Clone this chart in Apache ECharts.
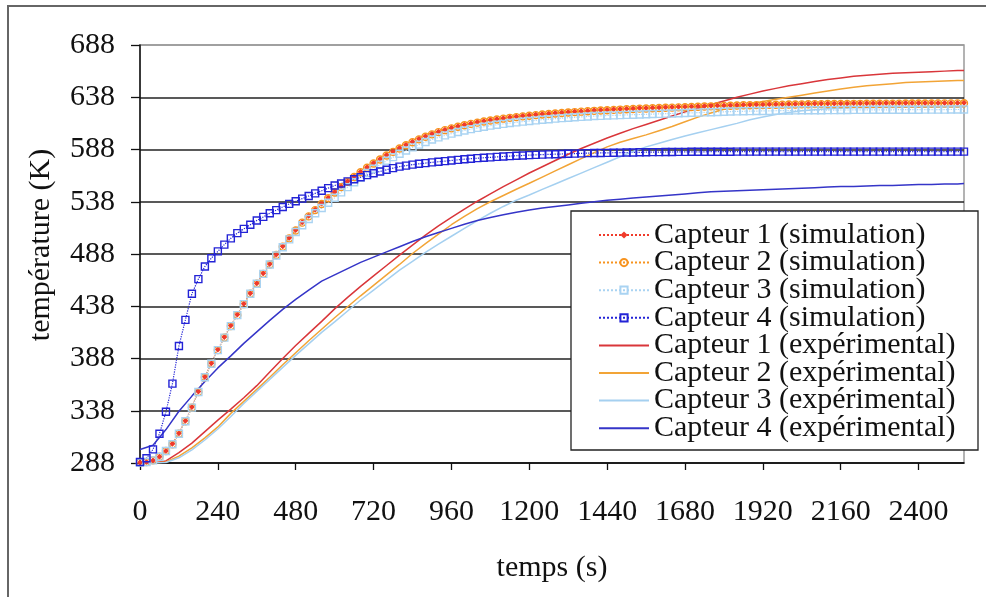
<!DOCTYPE html>
<html>
<head>
<meta charset="utf-8">
<title>température (K)</title>
<script src="https://cdn.jsdelivr.net/npm/echarts@6/dist/echarts.min.js"></script>
<style>
  html, body { margin: 0; padding: 0; background: #fff; }
  #chart { width: 986px; height: 597px; }
</style>
</head>
<body>
<div id="chart"></div>
<script>
// tick labels
var xTicks = [0, 240, 480, 720, 960, 1200, 1440, 1680, 1920, 2160, 2400];
var yTicks = [288, 338, 388, 438, 488, 538, 588, 638, 688];

var seriesNames = [
  'Capteur 1 (simulation)', 'Capteur 2 (simulation)', 'Capteur 3 (simulation)', 'Capteur 4 (simulation)',
  'Capteur 1 (expérimental)', 'Capteur 2 (expérimental)', 'Capteur 3 (expérimental)', 'Capteur 4 (expérimental)'
];

// simulation, temps (s)
var simTime = [
  0, 20, 40, 60, 80, 100, 120, 140, 160, 180,
  200, 220, 240, 260, 280, 300, 320, 340, 360, 380,
  400, 420, 440, 460, 480, 500, 520, 540, 560, 580,
  600, 620, 640, 660, 680, 700, 720, 740, 760, 780,
  800, 820, 840, 860, 880, 900, 920, 940, 960, 980,
  1000, 1020, 1040, 1060, 1080, 1100, 1120, 1140, 1160, 1180,
  1200, 1220, 1240, 1260, 1280, 1300, 1320, 1340, 1360, 1380,
  1400, 1420, 1440, 1460, 1480, 1500, 1520, 1540, 1560, 1580,
  1600, 1620, 1640, 1660, 1680, 1700, 1720, 1740, 1760, 1780,
  1800, 1820, 1840, 1860, 1880, 1900, 1920, 1940, 1960, 1980,
  2000, 2020, 2040, 2060, 2080, 2100, 2120, 2140, 2160, 2180,
  2200, 2220, 2240, 2260, 2280, 2300, 2320, 2340, 2360, 2380,
  2400, 2420, 2440, 2460, 2480, 2500, 2520, 2540
];

var sim1 = [
  288.5, 289, 290.5, 294, 299.5, 306.5, 316.5, 328.5, 341.5, 356.5,
  370.5, 383.5, 396.5, 408.5, 419.5, 430, 440.5, 450.5, 460, 469.5,
  478.5, 487.5, 495.5, 503.5, 511, 518.5, 524.5, 530.5, 536.3, 541.9,
  547.3, 552.5, 557.5, 562.2, 566.7, 571, 575.1, 579, 582.7, 586.2,
  589.5, 592.5, 595.5, 598.2, 600.7, 603, 605.1, 607, 608.7, 610.3,
  611.7, 613, 614.2, 615.3, 616.3, 617.2, 618, 618.8, 619.5, 620.2,
  620.8, 621.4, 622, 622.5, 623, 623.5, 623.9, 624.3, 624.7, 625.1,
  625.5, 625.8, 626.1, 626.4, 626.7, 627, 627.3, 627.6, 627.8, 628,
  628.2, 628.4, 628.6, 628.8, 629, 629.2, 629.4, 629.6, 629.8, 630,
  630.2, 630.4, 630.6, 630.8, 630.9, 631, 631.1, 631.2, 631.3, 631.4,
  631.5, 631.6, 631.7, 631.8, 631.9, 631.9, 632, 632, 632.1, 632.1,
  632.2, 632.2, 632.3, 632.3, 632.3, 632.4, 632.4, 632.4, 632.5, 632.5,
  632.5, 632.5, 632.5, 632.6, 632.6, 632.6, 632.6, 632.7
];

var sim2 = [
  288.5, 289, 290.5, 294, 299.5, 306, 316, 328, 341, 356,
  370, 383, 396, 408, 419, 429.5, 440, 450, 459.5, 469,
  478, 487, 495, 503, 510.5, 518, 524, 530, 535.8, 541.4,
  546.8, 552, 557, 561.7, 566.2, 570.5, 574.6, 578.5, 582.2, 585.7,
  589, 592, 595, 597.7, 600.2, 602.5, 604.6, 606.5, 608.2, 609.8,
  611.2, 612.5, 613.7, 614.8, 615.8, 616.7, 617.5, 618.3, 619, 619.7,
  620.3, 620.9, 621.5, 622, 622.5, 623, 623.4, 623.8, 624.2, 624.6,
  625, 625.3, 625.6, 625.9, 626.2, 626.5, 626.8, 627.1, 627.3, 627.5,
  627.7, 627.9, 628.1, 628.3, 628.5, 628.7, 628.9, 629.1, 629.3, 629.5,
  629.7, 629.9, 630.1, 630.3, 630.4, 630.5, 630.6, 630.7, 630.8, 630.9,
  631, 631.1, 631.2, 631.3, 631.4, 631.4, 631.5, 631.5, 631.6, 631.6,
  631.7, 631.7, 631.8, 631.8, 631.8, 631.9, 631.9, 631.9, 632, 632,
  632, 632, 632, 632.1, 632.1, 632.1, 632.1, 632.2
];

var sim3 = [
  288.5, 289, 290.5, 294, 299.5, 306, 316, 328, 341, 356,
  370, 383, 396, 408, 419, 429.5, 440, 450, 459.5, 469,
  478, 486.5, 494.5, 502, 509, 515.5, 521.5, 527, 532, 537,
  541.8, 547, 552, 556.7, 561.2, 565.5, 569.6, 573.5, 577.2, 580.7,
  584, 587, 590, 592.7, 595.2, 597.5, 599.6, 601.5, 603.2, 604.8,
  606.2, 607.5, 608.7, 609.8, 610.8, 611.7, 612.5, 613.3, 614, 614.7,
  615.3, 615.9, 616.5, 617, 617.5, 618, 618.4, 618.8, 619.2, 619.6,
  620, 620.2, 620.5, 620.7, 620.9, 621.1, 621.3, 621.5, 621.7, 621.9,
  622.1, 622.3, 622.5, 622.7, 622.9, 623.1, 623.3, 623.5, 623.7, 623.9,
  624.1, 624.3, 624.5, 624.6, 624.7, 624.8, 624.9, 625, 625.1, 625.2,
  625.3, 625.4, 625.5, 625.5, 625.6, 625.6, 625.7, 625.7, 625.8, 625.8,
  625.9, 625.9, 625.9, 626, 626, 626, 626, 626.1, 626.1, 626.1,
  626.1, 626.2, 626.2, 626.2, 626.2, 626.3, 626.3, 626.3
];

var sim4 = [
  289, 292.5, 301, 316, 337, 364, 400, 425, 450, 464,
  476, 484, 490.5, 497, 503, 508, 512, 516, 520, 523.5,
  527, 530, 533, 536, 538.5, 541, 543.5, 546, 548.5, 551,
  553.5, 555.5, 557.5, 559.5, 561.5, 563.5, 565.3, 567, 568.6, 570.2,
  571.6, 572.6, 573.5, 574.3, 575, 575.7, 576.3, 576.9, 577.5, 578.1,
  578.7, 579.2, 579.7, 580.1, 580.5, 580.9, 581.3, 581.7, 582, 582.3,
  582.6, 582.9, 583.1, 583.3, 583.5, 583.7, 583.9, 584.1, 584.3, 584.5,
  584.6, 584.7, 584.8, 584.9, 585, 585.1, 585.2, 585.3, 585.4, 585.5,
  585.5, 585.6, 585.6, 585.7, 585.7, 585.8, 585.8, 585.8, 585.9, 585.9,
  585.9, 585.9, 586, 586, 586, 586, 586, 586, 586, 586,
  586, 586, 586, 586, 586, 586, 586, 586, 586, 586,
  586, 586, 586, 586, 586, 586, 586, 586, 586, 586,
  586, 586, 586, 586, 586, 586, 586, 586
];

// mesures, temps (s)
var expTime = [
  0, 40, 80, 120, 160, 200, 240, 280, 320, 360,
  400, 440, 480, 520, 560, 600, 640, 680, 720, 760,
  800, 840, 880, 920, 960, 1000, 1040, 1080, 1120, 1160,
  1200, 1240, 1280, 1320, 1360, 1400, 1440, 1480, 1520, 1560,
  1600, 1640, 1680, 1720, 1760, 1800, 1840, 1880, 1920, 1960,
  2000, 2040, 2080, 2120, 2160, 2200, 2240, 2280, 2320, 2360,
  2400, 2440, 2480, 2520, 2540
];

var exp1 = [
  288, 288, 290, 298, 307, 318, 329, 339.5, 350.5, 362,
  375, 388, 400.5, 412, 423.5, 435.5, 446.5, 457, 467, 477,
  487, 496.5, 506, 515, 523, 531, 538.5, 545.5, 552.5, 559,
  565.5, 571.5, 577.5, 583.5, 589, 594, 599, 603.5, 608, 612,
  616, 620, 624, 627.5, 631, 634.5, 638, 641, 644, 646.5,
  649, 651, 653, 655, 656.5, 658, 659, 660, 661, 661.5,
  662, 662.5, 663, 663.5, 663.5
];

var exp2 = [
  288, 288, 289, 294.5, 302.5, 312, 322.5, 335.5, 347, 358.5,
  370, 382, 393.5, 405, 416, 427, 437.5, 448, 458, 468,
  478, 488.5, 498, 507, 516, 524, 531.5, 538, 544, 550,
  555.7, 561.6, 567.5, 573.4, 579.3, 585, 590.5, 595, 598.5, 602,
  606, 610, 614.5, 619, 623, 626.5, 629, 631.5, 634, 636,
  638, 640, 642, 644, 646, 647.5, 649, 650, 651, 652,
  652.5, 653, 653.5, 654, 654
];

var exp3 = [
  288, 288, 288.5, 293, 300.5, 310, 320.5, 332.5, 345, 356.5,
  368, 379.5, 391, 402, 413, 423, 433.5, 444, 453.5, 463,
  472.5, 481, 489.5, 497.5, 505, 512.5, 520, 527, 533.5, 539.5,
  544.5, 549.8, 555, 560.2, 565.4, 570.6, 575.8, 581, 586.2, 590.5,
  594, 597.5, 601, 604, 607, 610, 613, 616.5, 619, 621.5,
  623.5, 625, 626, 627, 627.5, 628, 628, 628.2, 628.3, 628.4,
  628.5, 628.5, 628.6, 628.6, 628.7
];

var exp4 = [
  301, 305, 320, 337.5, 352, 366, 379, 390.5, 402.5, 413.5,
  424.5, 435, 444.5, 453.5, 462, 468, 474, 480, 485, 490,
  495, 500, 504.5, 508.5, 512.5, 516.5, 520, 523, 525.5, 528,
  530, 532, 533.5, 535, 536.5, 538, 539.5, 540.5, 541.5, 542.5,
  543.5, 544.5, 545.5, 546.5, 547.5, 548, 548.5, 549, 549.5, 550,
  550.5, 551, 551.5, 552, 552.5, 552.5, 553, 553.5, 553.5, 554,
  554.5, 554.5, 555, 555, 555.5
];

var serif = 'Liberation Serif';
var fontSize = 30;

function pairs(times, values) {
  return times.map(function (t, i) { return [t, values[i]]; });
}

function simSeries(name, values, color, symbol, size, filled) {
  return {
    name: name,
    type: 'line',
    data: pairs(simTime, values),
    symbol: symbol,
    symbolSize: size,
    showAllSymbol: true,
    lineStyle: { color: color, width: 1.2, type: 'dotted' },
    itemStyle: filled
      ? { color: color }
      : { color: 'rgba(255,255,255,0)', borderColor: color, borderWidth: 1.4 },
    emphasis: { disabled: true }
  };
}

function expSeries(name, values, color) {
  return {
    name: name,
    type: 'line',
    data: pairs(expTime, values),
    symbol: 'none',
    lineStyle: { color: color, width: 1.5 },
    itemStyle: { color: color },
    emphasis: { disabled: true }
  };
}

// legend: plain line for measured curves (no marker)
var legendData = seriesNames.map(function (n, i) {
  if (i < 4) return { name: n };
  return { name: n, itemStyle: { color: 'rgba(0,0,0,0)', borderColor: 'rgba(0,0,0,0)', borderWidth: 0 } };
});

var myChart = echarts.init(document.getElementById('chart'));

var option = {
  animation: false,
  backgroundColor: '#fff',
  grid: {
    left: 140, top: 45, right: 22, bottom: 134,
    show: true, borderColor: '#9a9a9a', borderWidth: 1.5
  },
  xAxis: {
    type: 'value',
    min: 0,
    max: 2540,
    name: 'temps (s)',
    nameLocation: 'middle',
    nameGap: 90,
    nameTextStyle: { fontFamily: serif, fontSize: fontSize, color: '#111' },
    axisLine: { lineStyle: { color: '#111', width: 1.5 } },
    axisTick: { customValues: xTicks, length: 7, lineStyle: { color: '#111', width: 1.3 } },
    axisLabel: {
      customValues: xTicks, margin: 34, fontFamily: serif, fontSize: fontSize, color: '#111',
      formatter: function (v) { return String(v); }
    },
    splitLine: { show: false }
  },
  yAxis: {
    type: 'value',
    min: 288,
    max: 688,
    name: 'température (K)',
    nameLocation: 'middle',
    nameGap: 84,
    nameTextStyle: { fontFamily: serif, fontSize: fontSize, color: '#111', padding: [0, 0, 0, 18] },
    axisLine: { show: true, lineStyle: { color: '#111', width: 1.5 } },
    axisTick: { show: true, customValues: yTicks, length: 9, lineStyle: { color: '#111', width: 1.3 } },
    axisLabel: {
      customValues: yTicks, margin: 25, fontFamily: serif, fontSize: fontSize, color: '#111',
      formatter: function (v) { return String(v); }
    },
    splitLine: {
      show: true,
      lineStyle: {
        color: ['#222', '#222', '#222', '#222', '#222', '#222', '#222', '#222', '#9a9a9a'],
        width: 1.6
      }
    }
  },
  legend: {
    orient: 'vertical',
    left: 598,
    top: 220,
    padding: 0,
    itemWidth: 50,
    itemHeight: 9,
    itemGap: -2.4,
    data: legendData,
    textStyle: { fontFamily: serif, fontSize: fontSize, color: '#111' },
    selectedMode: false
  },
  graphic: [
    {
      type: 'polyline',
      shape: { points: [[986, 6], [8, 6], [8, 597]] },
      style: { stroke: '#666', lineWidth: 2, fill: null },
      silent: true
    },
    {
      type: 'rect',
      z: 3,
      shape: { x: 571, y: 211, width: 407, height: 239 },
      style: { fill: '#fff', stroke: '#222', lineWidth: 1.3 },
      silent: true
    }
  ],
  series: [
    simSeries(seriesNames[0], sim1, '#f03a2a', 'diamond', 6, true),
    simSeries(seriesNames[1], sim2, '#f7931e', 'circle', 7, false),
    simSeries(seriesNames[2], sim3, '#a9d3f2', 'rect', 7, false),
    simSeries(seriesNames[3], sim4, '#2323d6', 'rect', 7, false),
    expSeries(seriesNames[4], exp1, '#d9363a'),
    expSeries(seriesNames[5], exp2, '#f2a436'),
    expSeries(seriesNames[6], exp3, '#a5d0f0'),
    expSeries(seriesNames[7], exp4, '#3535c8')
  ]
};

myChart.setOption(option);
</script>
</body>
</html>
